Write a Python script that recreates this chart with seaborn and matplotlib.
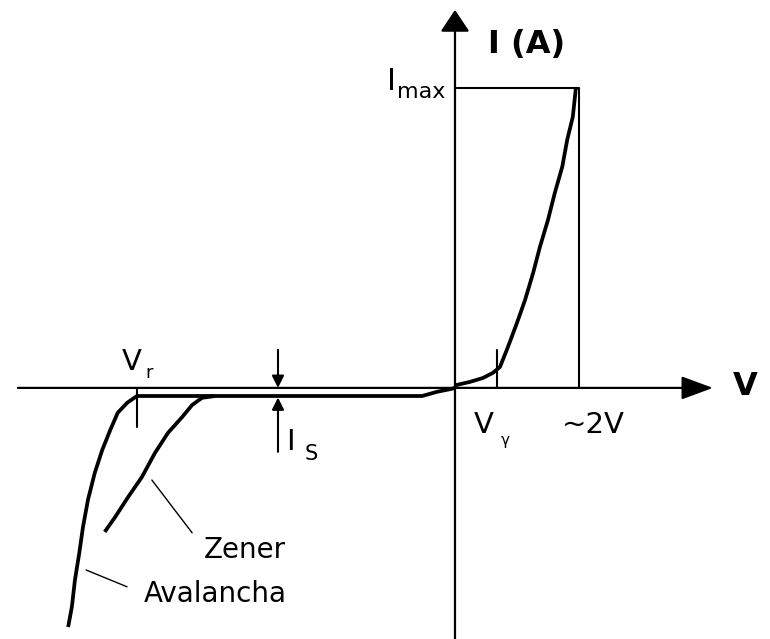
import matplotlib
matplotlib.use("Agg")
import matplotlib.pyplot as plt
import seaborn as sns
import pandas as pd

# Diode I-V characteristic. V in volts, I normalised so that I_max = 1.
forward_v = [0.0, 0.03, 0.24, 0.45, 0.61, 0.726, 0.855, 1.00, 1.13, 1.26,
             1.37, 1.50, 1.61, 1.73, 1.81, 1.90, 1.95]
forward_i = [0.0, 0.01, 0.02, 0.033, 0.05, 0.07, 0.137, 0.217, 0.293, 0.383,
             0.47, 0.56, 0.65, 0.737, 0.827, 0.903, 1.0]

# Reverse saturation (leakage) region up to the origin
leakage_v = [-5.13, -3.87, -0.53, -0.29, -0.05, 0.0]
leakage_i = [-0.027, -0.027, -0.027, -0.013, -0.003, 0.0]

# Avalanche breakdown branch, from the knee downwards
avalanche_v = [-5.13, -5.29, -5.44, -5.56, -5.69, -5.81, -5.92, -6.00,
               -6.06, -6.13, -6.18, -6.24]
avalanche_i = [-0.027, -0.05, -0.083, -0.14, -0.207, -0.283, -0.373, -0.463,
               -0.55, -0.64, -0.73, -0.797]

# Zener breakdown branch
zener_v = [-3.87, -4.08, -4.24, -4.40, -4.63, -4.84, -5.05, -5.27, -5.48, -5.65]
zener_i = [-0.027, -0.033, -0.057, -0.097, -0.15, -0.217, -0.297, -0.363,
           -0.43, -0.48]

V_GAMMA = 0.68
V_MAX = 2.0
I_MAX = 1.0
V_R = -5.13
I_S = -0.027

sns.set_theme(style="white")
plt.rcParams["font.family"] = ["DejaVu Sans"]

fig = plt.figure(figsize=(7.7, 6.39), dpi=100)
ax = fig.add_axes([0, 0, 1, 1])
ax.set_xlim(-7.339, 5.081)
ax.set_ylim(-0.837, 1.293)
ax.set_axis_off()

ink = "black"

# Coordinate axes with arrow heads
ax.annotate("", xy=(4.16, 0), xytext=(-7.05, 0),
            arrowprops=dict(arrowstyle="-|>,head_length=0.65,head_width=0.24",
                            mutation_scale=30, lw=1.6, color=ink,
                            shrinkA=0, shrinkB=0))
ax.annotate("", xy=(0, 1.26), xytext=(0, -0.837),
            arrowprops=dict(arrowstyle="-|>,head_length=0.45,head_width=0.3",
                            mutation_scale=30, lw=1.6, color=ink,
                            shrinkA=0, shrinkB=0))

# I_max / ~2V limits
box = pd.DataFrame({"v": [0.0, V_MAX, V_MAX], "i": [I_MAX, I_MAX, 0.0]})
sns.lineplot(data=box, x="v", y="i", sort=False, estimator=None,
             color=ink, lw=1.5, ax=ax)

# Characteristic curves
curve_kw = dict(sort=False, estimator=None, color=ink, lw=2.7, ax=ax,
                solid_joinstyle="round", solid_capstyle="butt")
sns.lineplot(x=forward_v, y=forward_i, **curve_kw)
sns.lineplot(x=leakage_v, y=leakage_i, **curve_kw)
sns.lineplot(x=avalanche_v, y=avalanche_i, **curve_kw)
sns.lineplot(x=zener_v, y=zener_i, **curve_kw)

# Tick marks at V_gamma and V_r
ax.plot([V_GAMMA, V_GAMMA], [0, 0.127], color=ink, lw=1.5)
ax.plot([V_R, V_R], [0, -0.13], color=ink, lw=1.5)

# I_s indicator arrows
small = dict(arrowstyle="-|>,head_length=0.6,head_width=0.3",
             mutation_scale=12, lw=1.5, color=ink, shrinkA=0, shrinkB=0)
ax.annotate("", xy=(-2.855, 0.0), xytext=(-2.855, 0.127), arrowprops=small)
ax.annotate("", xy=(-2.855, I_S - 0.005), xytext=(-2.855, -0.213),
            arrowprops=small)

# Leader lines for the breakdown labels
ax.plot([-4.89, -4.24], [-0.307, -0.483], color=ink, lw=1.0)
ax.plot([-5.95, -5.29], [-0.607, -0.663], color=ink, lw=1.0)

# Labels
ax.text(0.53, 1.117, "I (A)", fontsize=23, fontweight="bold",
        ha="left", va="baseline", color=ink)
ax.text(4.48, -0.023, "V", fontsize=23, fontweight="bold",
        ha="left", va="baseline", color=ink)
ax.text(-1.10, 0.993, "I", fontsize=22, ha="left", va="baseline", color=ink)
ax.text(-0.94, 0.967, "max", fontsize=16, ha="left", va="baseline", color=ink)
ax.text(0.30, -0.15, "V", fontsize=21, ha="left", va="baseline", color=ink)
ax.text(0.74, -0.19, "γ", fontsize=11, ha="left", va="baseline", color=ink)
ax.text(1.72, -0.15, "~2V", fontsize=21, ha="left", va="baseline", color=ink)
ax.text(-5.37, 0.06, "V", fontsize=21, ha="left", va="baseline", color=ink)
ax.text(-5.00, 0.033, "r", fontsize=13, ha="left", va="baseline", color=ink)
ax.text(-2.72, -0.207, "I", fontsize=21, ha="left", va="baseline", color=ink)
ax.text(-2.42, -0.24, "S", fontsize=15, ha="left", va="baseline", color=ink)
ax.text(-4.05, -0.567, "Zener", fontsize=20, ha="left", va="baseline", color=ink)
ax.text(-5.02, -0.713, "Avalancha", fontsize=20, ha="left", va="baseline",
        color=ink)

fig.savefig("out.png", dpi=100, facecolor="white")
